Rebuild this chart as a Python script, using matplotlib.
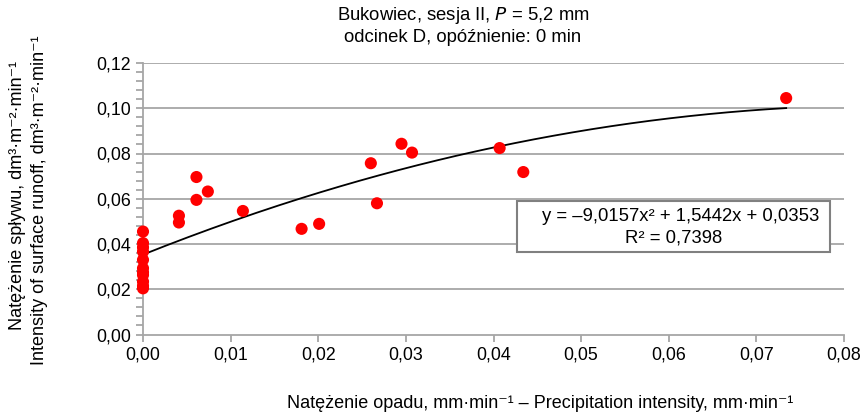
import matplotlib.pyplot as plt
import numpy as np

plt.rcParams['font.family'] = ['Liberation Sans', 'DejaVu Sans']

# measured points (precipitation intensity vs runoff intensity)
x_vals = [0, 0, 0, 0, 0, 0, 0, 0, 0, 0, 0,
          0.0041, 0.0041, 0.0061, 0.0061, 0.0074, 0.0114, 0.0181, 0.0201,
          0.0260, 0.0267, 0.0295, 0.0307, 0.0407, 0.0434, 0.0734]
y_vals = [0.0455, 0.0404, 0.0385, 0.0366, 0.0330, 0.0293, 0.0275, 0.0263, 0.0234, 0.0215, 0.0204,
          0.0525, 0.0495, 0.0696, 0.0595, 0.0632, 0.0546, 0.0467, 0.0489,
          0.0757, 0.0580, 0.0843, 0.0804, 0.0824, 0.0718, 0.1045]

# trend line coefficients (from the chart)
coef = [-9.0157, 1.5442, 0.0353]
r2 = 0.7398

x_ticks = [0, 0.01, 0.02, 0.03, 0.04, 0.05, 0.06, 0.07, 0.08]
y_ticks = [0, 0.02, 0.04, 0.06, 0.08, 0.10, 0.12]

fig = plt.figure(figsize=(8.67, 4.17), dpi=100)
ax = fig.add_axes([143 / 867, (417 - 334.5) / 417, 701 / 867, 271.5 / 417])

grid_c = '#a6a6a6'
for yt in y_ticks[1:]:
    ax.axhline(yt, color=grid_c, lw=1.3, zorder=1)

xs = np.linspace(0, max(x_vals), 200)
ax.plot(xs, np.polyval(coef, xs), color='black', lw=1.3, zorder=3)
ax.scatter(x_vals, y_vals, s=76, color='#ff0000', edgecolors='none', zorder=4, clip_on=False)

ax.set_xlim(0, 0.08)
ax.set_ylim(0, 0.12)
ax.set_xticks(x_ticks)
ax.set_yticks(y_ticks)
ax.set_yticks(np.arange(0, 0.1201, 0.004), minor=True)
ax.set_xticklabels([f'{v:.2f}'.replace('.', ',') for v in x_ticks])
ax.set_yticklabels([f'{v:.2f}'.replace('.', ',') for v in y_ticks])
ax.tick_params(axis='both', which='major', labelsize=12.8, color=grid_c, width=1.3, length=5)
ax.tick_params(axis='y', which='minor', color=grid_c, width=1.3, length=5)
for s in ['top', 'right']:
    ax.spines[s].set_visible(False)
for s in ['left', 'bottom']:
    ax.spines[s].set_color(grid_c)
    ax.spines[s].set_linewidth(1.3)
    ax.spines[s].set_zorder(2)

ax.text(0.0614, 0.0520, 'y = \u20139,0157x\u00b2 + 1,5442x + 0,0353', fontsize=13.3, ha='center', va='center', zorder=6)
ax.text(0.0606, 0.0427, f'R\u00b2 = {r2:.4f}'.replace('.', ','), fontsize=13.3, ha='center', va='center', zorder=6)
box = plt.Rectangle((0.0427, 0.0366), 0.0357, 0.0226, facecolor='white',
                    edgecolor='#808080', lw=1.5, zorder=5)
ax.add_patch(box)

fig.text(463 / 867, 1 - 15 / 417, 'Bukowiec, sesja II, $\\it{P}$ = 5,2 mm', ha='center', va='center', fontsize=13.3)
fig.text(463 / 867, 1 - 37 / 417, 'odcinek D, opóźnienie: 0 min', ha='center', va='center', fontsize=13.3)

fig.text(540 / 867, 1 - 403 / 417,
         'Natężenie opadu, mm·min\u207b\u00b9 \u2013 Precipitation intensity, mm·min\u207b\u00b9',
         ha='center', va='center', fontsize=13)
fig.text(18 / 867, 1 - 195 / 417,
         'Natężenie spływu, dm\u00b3·m\u207b\u00b2·min\u207b\u00b9',
         ha='center', va='center', rotation=90, fontsize=13)
fig.text(40 / 867, 1 - 200 / 417,
         'Intensity of surface runoff, dm\u00b3·m\u207b\u00b2·min\u207b\u00b9',
         ha='center', va='center', rotation=90, fontsize=13)

fig.savefig('out.png', dpi=100)
